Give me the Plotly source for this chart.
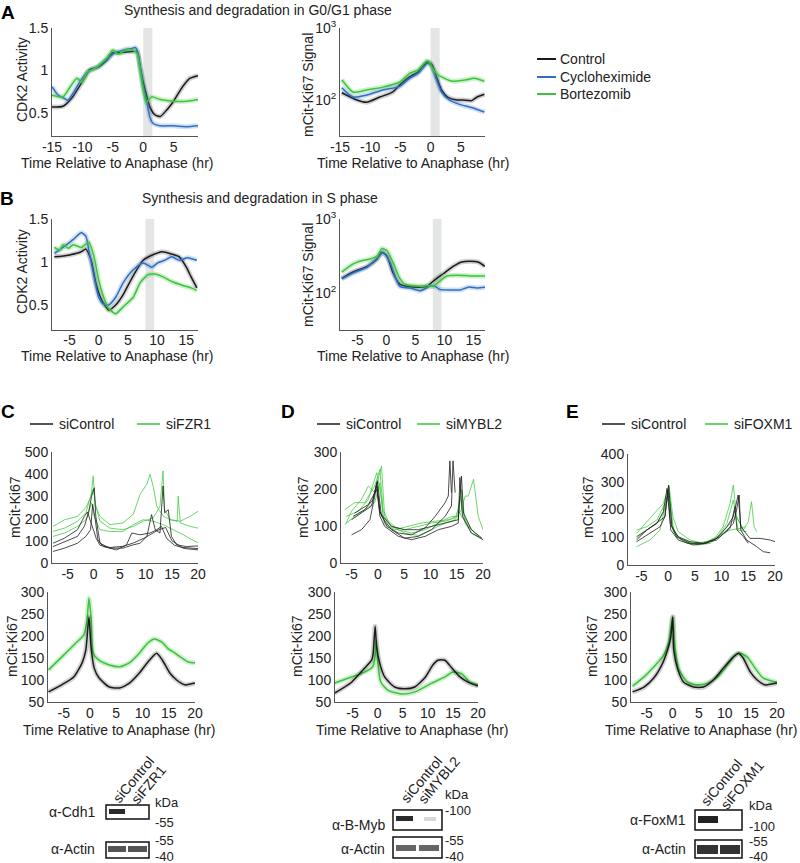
import plotly.graph_objects as go

# ---------------- DATA ----------------
# Panel A (G0/G1) CDK2 activity
a_cdk_ctrl_t = [-15, -13.2, -11.7, -10.7, -9.6, -8.8, -7.4, -6, -5, -3.8, -2.5, -1, -0.5, 0, 0.6, 1.1, 1.9, 2.8, 3.9, 4.9, 6.1, 6.9, 7.7, 9]
a_cdk_ctrl_v = [0.57, 0.58, 0.68, 0.79, 0.92, 1.01, 1.04, 1.12, 1.21, 1.21, 1.22, 1.22, 1.04, 0.86, 0.69, 0.57, 0.48, 0.46, 0.54, 0.63, 0.77, 0.85, 0.91, 0.94]
a_cdk_chx_t = [-15, -14, -13.2, -12.4, -11.5, -10.4, -9.2, -7.6, -6, -4.6, -3.3, -1.8, -1.3, -1, -0.5, 0, 0.6, 1.1, 1.6, 2.8, 4.9, 7.2, 9]
a_cdk_chx_v = [0.81, 0.71, 0.68, 0.65, 0.74, 0.87, 0.98, 1.04, 1.13, 1.21, 1.24, 1.26, 1.27, 1.24, 1.04, 0.81, 0.62, 0.45, 0.38, 0.35, 0.35, 0.34, 0.35]
a_cdk_btz_t = [-15, -13.2, -12, -10.9, -10.1, -9.2, -7.6, -6, -5, -4.1, -3, -1.8, -1, -0.5, 0, 0.5, 0.8, 1.4, 2.8, 4.9, 7.2, 9]
a_cdk_btz_v = [0.71, 0.69, 0.81, 0.91, 0.86, 0.98, 1.04, 1.15, 1.24, 1.19, 1.24, 1.24, 1.2, 1.0, 0.77, 0.62, 0.65, 0.69, 0.66, 0.64, 0.64, 0.66]

# Panel A Ki67 signal
a_ki_ctrl_t = [-14.7, -12.2, -10.6, -8.4, -6.3, -5.1, -3.5, -2.1, -1, -0.5, 0.2, 1, 1.8, 2.8, 4.3, 5.3, 6.8, 7.7, 8.9]
a_ki_ctrl_v = [126, 100, 93, 110, 129, 162, 209, 245, 309, 339, 309, 204, 138, 110, 100, 100, 98, 110, 120]
a_ki_chx_t = [-14.7, -12.85, -10.6, -7.9, -5.1, -3.5, -2.1, -0.5, 0.2, 1, 1.8, 3.1, 4.8, 6.9, 8.9]
a_ki_chx_v = [148, 110, 117, 138, 155, 200, 234, 324, 288, 191, 129, 100, 87, 78, 68]
a_ki_btz_t = [-14.7, -12.85, -10.6, -7.9, -5.1, -3.5, -2.1, -0.7, -0.2, 0.3, 1.2, 2.3, 3.6, 5.9, 7.2, 8.9]
a_ki_btz_v = [191, 129, 138, 151, 178, 234, 263, 347, 339, 275, 224, 200, 182, 191, 200, 182]

# Panel B (S phase) CDK2 activity
b_cdk_ctrl_t = [-7.6, -5.2, -3, -2.2, -1.3, -0.5, 0.3, 1.2, 1.7, 2.9, 4.0, 5.9, 7.6, 8.8, 10.9, 12.6, 13.8, 15, 15.8, 16.8]
b_cdk_ctrl_v = [1.06, 1.08, 1.12, 1.15, 1.02, 0.76, 0.59, 0.48, 0.44, 0.5, 0.6, 0.84, 1.02, 1.07, 1.12, 1.09, 1.06, 0.94, 0.83, 0.70]
b_cdk_chx_t = [-7.6, -6.1, -4.4, -3, -2.2, -1.7, -0.8, 0, 0.8, 1.7, 2.9, 4.2, 5.9, 7.6, 9.1, 10.1, 11.3, 12.5, 13.8, 15.2, 16.8]
b_cdk_chx_v = [1.1, 1.17, 1.26, 1.34, 1.3, 1.14, 0.83, 0.59, 0.51, 0.5, 0.59, 0.76, 0.91, 0.99, 0.94, 0.99, 1.02, 1.06, 1.02, 1.05, 1.02]
b_cdk_btz_t = [-7.6, -6.7, -6.1, -5.2, -4.4, -3, -1.7, -0.8, 0, 0.8, 1.7, 2.9, 4.2, 5.9, 7.1, 8.4, 9.6, 10.9, 12.6, 14.3, 15.8, 16.8]
b_cdk_btz_v = [1.17, 1.14, 1.2, 1.16, 1.2, 1.17, 1.23, 1.06, 0.79, 0.6, 0.46, 0.40, 0.48, 0.59, 0.76, 0.85, 0.86, 0.83, 0.77, 0.73, 0.70, 0.67]

# Panel B Ki67 signal
b_ki_ctrl_t = [-7.7, -5.8, -3.3, -1.6, -0.8, 0.1, 1.1, 2.3, 3.6, 4.6, 5.8, 7, 7.9, 8.7, 9.8, 11.5, 13, 14.4, 15.8, 17]
b_ki_ctrl_v = [158, 191, 229, 288, 355, 316, 191, 132, 123, 120, 120, 123, 141, 158, 182, 229, 263, 269, 263, 229]
b_ki_chx_t = [-7.7, -5.8, -3.3, -1.1, -0.6, 0.6, 2.3, 4.1, 5.8, 7.5, 8.4, 9.2, 11, 12.7, 14.1, 15.6, 17]
b_ki_chx_v = [155, 186, 224, 324, 355, 263, 123, 117, 107, 123, 123, 112, 110, 110, 120, 117, 120]
b_ki_btz_t = [-7.7, -5.8, -4.6, -2.8, -1.6, -0.8, 0.1, 1.1, 2.3, 3.2, 4.6, 5.8, 7, 8, 9.2, 10.4, 12.2, 14.4, 17]
b_ki_btz_v = [191, 245, 269, 288, 316, 398, 372, 263, 158, 132, 126, 123, 126, 123, 145, 170, 174, 170, 170]

# Panel C single cells (siControl / siFZR1)
c_ctrl_cells_t = [
    [-7.8, -5.6, -3.1, -1.8, -1, -0.4, 0.1, 0.4, 1.2, 3.1, 5.6, 7.6, 8.9, 10.2, 11.1, 11.8, 12.7, 13.3, 13.6, 14.3, 14.9, 15.9, 17.8, 20],
    [-7.8, -5.6, -3.1, -1.5, -0.6, -0.2, 0.3, 0.8, 1.8, 4.4, 6.3, 7.3, 8.9, 10.8, 12.1, 13, 14, 15.5, 17.5, 20],
    [-7.8, -5.6, -3.1, -1.8, -1.2, -0.6, 0, 0.5, 1.2, 3.1, 5.6, 7.6, 9.5, 11, 12.5, 13.8, 15, 17, 20],
]
c_ctrl_cells_v = [
    [74, 97, 120, 165, 226, 301, 339, 210, 89, 67, 67, 82, 89, 120, 218, 150, 135, 347, 226, 240, 120, 82, 74, 77],
    [52, 67, 89, 120, 150, 264, 195, 105, 74, 59, 82, 135, 127, 135, 150, 165, 110, 80, 65, 59],
    [89, 112, 150, 210, 230, 190, 140, 110, 80, 70, 75, 90, 110, 130, 150, 160, 100, 70, 65],
]
c_kd_cells_t = [
    [-7.8, -5.6, -3.1, -1.5, -0.5, -0.1, 0.3, 1.2, 3.1, 5.6, 7.6, 8.9, 10.2, 10.8, 11.4, 12.1, 13.4, 14.7, 16.6, 18.5, 20],
    [-7.8, -5.6, -3.1, -1.5, -0.6, -0.1, 0.4, 1.2, 3.1, 5.6, 7.6, 9.5, 11.4, 12.7, 13.3, 13.6, 14.7, 16, 16.2, 16.6, 18.5, 20],
    [-7.8, -5.6, -3.1, -1.5, -0.4, 0.1, 1.2, 3.1, 5.6, 7.6, 9.5, 11.4, 13.3, 15.3, 17.2, 18.8, 20],
]
c_kd_cells_v = [
    [165, 195, 210, 250, 300, 392, 260, 210, 173, 180, 220, 310, 355, 400, 345, 255, 210, 195, 188, 210, 233],
    [142, 157, 188, 226, 301, 332, 257, 188, 157, 150, 165, 188, 203, 255, 415, 240, 195, 188, 301, 180, 165, 157],
    [120, 135, 165, 195, 271, 210, 150, 142, 142, 173, 195, 188, 173, 150, 127, 105, 92],
]
# Panel C mean
c_ctrl_t = [-7.9, -5.4, -3.1, -1.5, -0.8, -0.2, 0.2, 0.8, 1.7, 3.7, 5.6, 7.5, 9.4, 11.3, 12.7, 13.8, 15.2, 16.5, 18.1, 20]
c_ctrl_v = [73, 89, 107, 139, 168, 243, 175, 127, 105, 84, 82, 93, 116, 145, 161, 145, 116, 100, 89, 93]
c_kd_t = [-7.9, -5.4, -2.7, -1.2, -0.6, -0.2, 0.2, 0.6, 1.7, 3.7, 5.6, 7.5, 9.4, 11, 12.3, 13.7, 14.8, 16.2, 17.5, 18.7, 20]
c_kd_v = [123, 152, 184, 202, 232, 286, 243, 161, 145, 134, 130, 139, 161, 184, 193, 186, 172, 161, 150, 141, 139]

# Panel D single cells (siControl / siMYBL2)
d_ctrl_cells_t = [
    [-5, -3.1, -1.5, -0.2, 0.4, 1.3, 3.9, 6.4, 9, 11.5, 14, 15.3, 15.6, 16.1, 17.8, 20],
    [-5, -3.1, -1.2, -0.2, 0.4, 1.7, 3.9, 6.4, 9, 10.9, 12.8, 13.4, 13.7, 14],
    [-4.7, -2.5, -0.9, -0.1, 0.7, 2.6, 5.1, 7.7, 10.2, 12.8, 14, 14.3, 14.7],
    [-4.4, -1.8, -0.2, 0.4, 2.6, 5.1, 7.7, 10.2, 12.8, 15.3, 15.9, 16.3, 17.8, 19.8],
]
d_ctrl_cells_v = [
    [76, 90, 117, 208, 126, 99, 72, 63, 72, 90, 99, 108, 231, 126, 81, 63],
    [117, 135, 154, 217, 140, 99, 81, 76, 95, 126, 163, 181, 276, 190],
    [126, 144, 172, 222, 126, 90, 67, 72, 90, 126, 154, 276, 190],
    [135, 158, 199, 135, 99, 90, 90, 99, 108, 117, 235, 135, 90, 67],
]
d_kd_cells_t = [
    [-6, -5, -3.1, -1.8, -0.6, 0.7, 1.3, 2.6, 5.1, 7.7, 10.2, 12.8, 14.7, 15.9, 16.6, 17.2, 18.2, 19.1, 20],
    [-6.3, -4.4, -2.5, -0.6, 0.4, 1, 2, 3.9, 6.4, 9, 11.5, 14, 15.3, 15.6, 16.3, 17.8, 19.1],
    [-6, -3.7, -1.8, -0.2, 0.6, 1.2, 3.2, 5.8, 8.3, 10.9, 13.4, 15, 15.9, 16.6, 17.8, 19.8],
    [-6.3, -4.4, -2.5, -0.6, 0.4, 1, 2.6, 5.1, 7.7, 10.2, 12.8, 14.7, 15.3, 15.9, 17.2, 18.5],
]
d_kd_cells_v = [
    [108, 140, 172, 208, 190, 262, 126, 99, 81, 74, 90, 108, 117, 144, 181, 181, 226, 126, 90],
    [144, 163, 163, 208, 253, 144, 113, 90, 81, 90, 108, 126, 126, 181, 126, 90, 72],
    [126, 140, 172, 244, 181, 108, 90, 99, 108, 113, 117, 126, 199, 108, 81, 67],
    [104, 126, 144, 163, 217, 126, 99, 90, 99, 108, 113, 122, 144, 126, 99, 81],
]
# Panel D mean
d_ctrl_t = [-8.6, -5.2, -2.6, -1.2, -0.9, -0.5, -0.2, 0.4, 1.4, 3.4, 5.4, 7.4, 9.4, 11, 12, 13.4, 14.8, 16.4, 18, 20]
d_ctrl_v = [70, 95, 127, 145, 160, 222, 175, 139, 107, 84, 80, 84, 105, 134, 145, 145, 127, 107, 95, 86]
d_kd_t = [-8.6, -5.2, -2.6, -1, -0.6, -0.3, 0, 0.6, 2, 4.8, 7.4, 10.8, 13.4, 15, 16.8, 18.4, 20]
d_kd_v = [93, 107, 118, 130, 145, 188, 145, 96, 77, 68, 73, 93, 107, 118, 114, 95, 89]

# Panel E single cells (siControl / siFOXM1)
e_ctrl_cells_t = [
    [-5.9, -4, -1.8, -0.6, 0.1, 0.7, 1.9, 4.1, 6.6, 9.1, 11, 12.2, 12.8, 13.3, 13.6, 14.7, 16.6, 17.8, 19.1],
    [-5.9, -4, -2.1, -0.9, -0.2, 0.4, 1.6, 4.1, 6.6, 9.1, 11, 12.2, 13.1, 13.6, 15.3, 17.2, 19.1, 20],
    [-5.9, -3.4, -1.5, -0.6, 0, 0.5, 1.9, 4.7, 7.2, 9.7, 11.6, 12.5, 12.9, 14.1, 15],
]
e_ctrl_cells_v = [
    [90, 126, 156, 174, 288, 138, 102, 84, 78, 90, 126, 150, 198, 252, 126, 90, 66, 48, 44],
    [102, 126, 150, 192, 276, 150, 102, 78, 78, 96, 138, 174, 252, 138, 96, 96, 90, 84],
    [84, 114, 138, 174, 270, 126, 90, 72, 78, 102, 132, 210, 126, 102, 78],
]
e_kd_cells_t = [
    [-5.9, -4, -2.1, -0.6, 0.1, 0.7, 1.6, 3.5, 6, 8.5, 10.3, 11.6, 12.2, 12.8, 14.1, 15, 15.6, 16.1, 16.6],
    [-5.9, -4, -2.1, -0.9, 0.2, 0.9, 1.9, 4.1, 6.6, 9.1, 11, 12.2, 13.1, 14.7],
    [-5.9, -3.4, -1.5, -0.2, 0.4, 1.1, 2.9, 5.4, 7.9, 10, 11.6, 12.8, 14.1],
    [-5.9, -4, -2.1, -0.6, 0.1, 0.9, 2.2, 4.7, 7.2, 9.7, 11.6, 13.5, 14.4],
]
e_kd_cells_v = [
    [96, 126, 150, 198, 288, 150, 102, 78, 78, 90, 138, 222, 288, 174, 126, 156, 228, 138, 120],
    [114, 156, 198, 222, 282, 174, 120, 90, 78, 96, 150, 234, 126, 120],
    [66, 90, 126, 246, 222, 114, 84, 72, 78, 114, 150, 174, 126],
    [126, 138, 162, 222, 258, 126, 96, 78, 84, 108, 126, 132, 138],
]
# Panel E mean
e_ctrl_t = [-7.7, -5.5, -3.6, -1.9, -1, -0.4, 0, 0.2, 1, 2.1, 4, 5.9, 7.8, 9.7, 11.6, 12.6, 13.5, 14.9, 16.2, 17.7, 20]
e_ctrl_v = [73, 84, 105, 139, 168, 195, 243, 168, 123, 95, 84, 84, 100, 127, 152, 161, 150, 118, 100, 89, 93]
e_kd_t = [-7.7, -5.5, -3.6, -1.7, -0.8, 0, 0.4, 1.2, 2.9, 4.8, 6.7, 8.6, 10.5, 12, 13, 14.3, 15.8, 17.3, 20]
e_kd_v = [86, 107, 130, 157, 184, 243, 175, 123, 95, 89, 93, 107, 134, 157, 161, 152, 127, 105, 95]

# Labels / ticks
legend_a = ["Control", "Cycloheximide", "Bortezomib"]
ki_ticks_log = [100, 1000]
ki_ticktext_log = ["10<sup>2</sup>", "10<sup>3</sup>"]
time_ticks_a = [-15, -10, -5, 0, 5]
time_ticks_b = [-5, 0, 5, 10, 15]
time_ticks_cde = [-5, 0, 5, 10, 15, 20]

# ---------------- FIGURE ----------------
W, H = 800, 863
FONT = "Liberation Sans, Arial, Helvetica, sans-serif"
BLACK = "#1a1a1a"
BLUE = "#2f6fc2"
GREEN = "#3cc43c"
fig = go.Figure()


def xr(i):
    return "x" if i == 1 else f"x{i}"


def yr(i):
    return "y" if i == 1 else f"y{i}"


def add_line(ax, t, v, color, width=1.5, halo=None, shape="spline", halo_w=5):
    if halo:
        fig.add_trace(go.Scatter(x=t, y=v, mode="lines", xaxis=xr(ax), yaxis=yr(ax),
                                 line=dict(color=halo, width=halo_w, shape=shape, smoothing=0.6),
                                 hoverinfo="skip", showlegend=False))
    fig.add_trace(go.Scatter(x=t, y=v, mode="lines", xaxis=xr(ax), yaxis=yr(ax),
                             line=dict(color=color, width=width, shape=shape, smoothing=0.6),
                             hoverinfo="skip", showlegend=False))


H_BLK = "rgba(0,0,0,0.18)"
H_BLU = "rgba(47,111,194,0.22)"
H_GRN = "rgba(60,196,60,0.25)"

# A
add_line(1, a_cdk_ctrl_t, a_cdk_ctrl_v, BLACK, halo=H_BLK)
add_line(1, a_cdk_chx_t, a_cdk_chx_v, BLUE, halo=H_BLU)
add_line(1, a_cdk_btz_t, a_cdk_btz_v, GREEN, halo=H_GRN)
add_line(2, a_ki_ctrl_t, a_ki_ctrl_v, BLACK, halo=H_BLK)
add_line(2, a_ki_chx_t, a_ki_chx_v, BLUE, halo=H_BLU)
add_line(2, a_ki_btz_t, a_ki_btz_v, GREEN, halo=H_GRN)
# B
add_line(3, b_cdk_ctrl_t, b_cdk_ctrl_v, BLACK, halo=H_BLK)
add_line(3, b_cdk_chx_t, b_cdk_chx_v, BLUE, halo=H_BLU)
add_line(3, b_cdk_btz_t, b_cdk_btz_v, GREEN, halo=H_GRN)
add_line(4, b_ki_ctrl_t, b_ki_ctrl_v, BLACK, halo=H_BLK)
add_line(4, b_ki_chx_t, b_ki_chx_v, BLUE, halo=H_BLU)
add_line(4, b_ki_btz_t, b_ki_btz_v, GREEN, halo=H_GRN)

# single cells
CELL_BLK = "rgba(30,30,30,0.8)"
CELL_GRN = "rgba(60,200,60,0.75)"
for ax, ct, cv, kt, kv in [(5, c_ctrl_cells_t, c_ctrl_cells_v, c_kd_cells_t, c_kd_cells_v),
                           (7, d_ctrl_cells_t, d_ctrl_cells_v, d_kd_cells_t, d_kd_cells_v),
                           (9, e_ctrl_cells_t, e_ctrl_cells_v, e_kd_cells_t, e_kd_cells_v)]:
    for t, v in zip(kt, kv):
        add_line(ax, t, v, CELL_GRN, width=1, shape="linear")
    for t, v in zip(ct, cv):
        add_line(ax, t, v, CELL_BLK, width=1, shape="linear")

# means
add_line(6, c_kd_t, c_kd_v, GREEN, halo=H_GRN)
add_line(6, c_ctrl_t, c_ctrl_v, BLACK, halo=H_BLK)
add_line(8, d_kd_t, d_kd_v, GREEN, halo=H_GRN)
add_line(8, d_ctrl_t, d_ctrl_v, BLACK, halo=H_BLK)
add_line(10, e_kd_t, e_kd_v, GREEN, halo=H_GRN)
add_line(10, e_ctrl_t, e_ctrl_v, BLACK, halo=H_BLK)


# ---------------- AXES ----------------
def tk(vals):
    return dict(tickvals=vals, ticktext=[("%g" % v) for v in vals])


boxes = {1: (52, 198, 28, 136), 2: (340, 485, 28, 136), 3: (52, 198, 219, 330), 4: (340, 485, 219, 330),
         5: (52, 198, 452, 563), 6: (48, 195, 592, 702), 7: (341, 483, 452, 563), 8: (335, 478, 592, 702),
         9: (628, 775, 454, 565), 10: (631, 777, 592, 702)}
xcfg = {1: dict(range=[-15, 9], **tk(time_ticks_a)),
        2: dict(range=[-15, 9], **tk(time_ticks_a)),
        3: dict(range=[-8, 17], **tk(time_ticks_b)),
        4: dict(range=[-8, 17], **tk(time_ticks_b)),
        5: dict(range=[-8, 20], **tk(time_ticks_cde)),
        6: dict(range=[-8, 20], **tk(time_ticks_cde)),
        7: dict(range=[-7, 20], **tk(time_ticks_cde)),
        8: dict(range=[-8.5, 20], **tk(time_ticks_cde)),
        9: dict(range=[-7.5, 20], **tk(time_ticks_cde)),
        10: dict(range=[-8, 20], **tk(time_ticks_cde))}
ycfg = {1: dict(range=[0.23, 1.5], **tk([0.5, 1, 1.5])),
        2: dict(type="log", range=[1.5, 3], tickvals=ki_ticks_log, ticktext=ki_ticktext_log),
        3: dict(range=[0.21, 1.5], **tk([0.5, 1, 1.5])),
        4: dict(type="log", range=[1.5, 3], tickvals=ki_ticks_log, ticktext=ki_ticktext_log),
        5: dict(range=[0, 500], **tk([0, 100, 200, 300, 400, 500])),
        6: dict(range=[50, 300], **tk([50, 100, 150, 200, 250, 300])),
        7: dict(range=[0, 300], **tk([0, 100, 200, 300])),
        8: dict(range=[50, 300], **tk([50, 100, 150, 200, 250, 300])),
        9: dict(range=[0, 400], **tk([0, 100, 200, 300, 400])),
        10: dict(range=[50, 300], **tk([50, 100, 150, 200, 250, 300]))}

layout = dict(width=W, height=H, margin=dict(l=0, r=0, t=0, b=0, pad=0, autoexpand=False),
              paper_bgcolor="white", plot_bgcolor="white", showlegend=False,
              font=dict(family=FONT, size=13, color="#222"))
common = dict(showline=True, linecolor="#555", linewidth=1, ticks="", showgrid=False, zeroline=False,
              automargin=False, tickfont=dict(family=FONT, size=14, color="#222"), fixedrange=True)
for i, (l, r, t, b) in boxes.items():
    xk = "xaxis" if i == 1 else f"xaxis{i}"
    yk = "yaxis" if i == 1 else f"yaxis{i}"
    stand = -3 if i in (3, 4) else -2
    layout[xk] = dict(domain=[l / W, r / W], anchor=yr(i), ticklabelstandoff=stand, **common, **xcfg[i])
    layout[yk] = dict(domain=[1 - b / H, 1 - t / H], anchor=xr(i), **common, **ycfg[i])
fig.update_layout(**layout)

shapes = []
# gray anaphase bands
for ax, x0, x1 in [(1, 0, 1.5), (2, 0, 1.5), (3, 8, 9.5), (4, 8, 9.5)]:
    shapes.append(dict(type="rect", xref=xr(ax), yref=yr(ax) + " domain", x0=x0, x1=x1, y0=0, y1=1,
                       fillcolor="#e4e5e5", line=dict(width=0), layer="below"))


def P(x, y):
    return x / W, 1 - y / H


def pline(x0, y0, x1, y1, color, w=2):
    a, b = P(x0, y0)
    c, d = P(x1, y1)
    shapes.append(dict(type="line", xref="paper", yref="paper", x0=a, y0=b, x1=c, y1=d,
                       line=dict(color=color, width=w)))


def prect(x0, y0, x1, y1, fill=None, line_color=None, lw=1.5):
    a, b = P(x0, y0)
    c, d = P(x1, y1)
    shapes.append(dict(type="rect", xref="paper", yref="paper", x0=a, y0=d, x1=c, y1=b,
                       fillcolor=fill if fill else "rgba(0,0,0,0)",
                       line=dict(color=line_color if line_color else "rgba(0,0,0,0)", width=lw if line_color else 0)))


annotations = []


def text(x, y, s, size=14, anchor="left", angle=0, bold=False, color="#222"):
    a, b = P(x, y)
    annotations.append(dict(x=a, y=b, xref="paper", yref="paper", text=("<b>%s</b>" % s) if bold else s,
                            showarrow=False, xanchor=anchor, yanchor="middle", textangle=angle,
                            font=dict(family=FONT, size=size, color=color)))


# panel letters
text(8, 13, "A", 19, "center", bold=True, color="#000")
text(7, 198, "B", 19, "center", bold=True, color="#000")
text(8, 411, "C", 19, "center", bold=True, color="#000")
text(288, 411, "D", 19, "center", bold=True, color="#000")
text(572, 411, "E", 19, "center", bold=True, color="#000")

# titles
text(258, 10, "Synthesis and degradation in G0/G1 phase", 14, "center")
text(260, 198, "Synthesis and degradation in S phase", 14, "center")

# x titles
for cx, cy in [(117, 163), (413, 163), (117, 356), (413, 356), (119, 730), (412, 730)]:
    text(cx, cy, "Time Relative to Anaphase (hr)", 14, "center")
text(799, 730, "Time Relative to Anaphase (hr)", 14, "right")
# y titles
text(22, 80, "CDK2 Activity", 14, "center", angle=-90)
text(22, 272, "CDK2 Activity", 14, "center", angle=-90)
text(308, 85, "mCit-Ki67 Signal", 14, "center", angle=-90)
text(308, 275, "mCit-Ki67 Signal", 14, "center", angle=-90)
for cx, cy in [(15, 507), (12, 646), (303, 507), (297, 646), (588, 507), (592, 646)]:
    text(cx, cy, "mCit-Ki67", 14, "center", angle=-90)

# legend A
for (yy, name, col) in zip([59, 77, 94], legend_a, [BLACK, BLUE, GREEN]):
    pline(537, yy, 556, yy, col, 2)
    text(558, yy, name, 14, "left")

# legends C/D/E
for (bx0, gx0, kdname) in [(30, 137, "siFZR1"), (317, 417, "siMYBL2"), (602, 705, "siFOXM1")]:
    pline(bx0, 424, bx0 + 23, 424, BLACK, 1.5)
    text(bx0 + 27, 424, "siControl", 14, "left")
    pline(gx0, 424, gx0 + 23, 424, GREEN, 1.5)
    text(gx0 + 27, 424, kdname, 14, "left")

KS = 13  # kDa marker font size
# western blots
# C
prect(106, 805, 149, 819, line_color="#111")
prect(109, 809, 125, 814, fill="#2a2a2a")
prect(106, 842, 149, 858, line_color="#111")
prect(108, 846, 126, 852, fill="#555")
prect(128, 846, 147, 852, fill="#555")
text(97, 812, "α-Cdh1", 14, "right")
text(97, 849, "α-Actin", 14, "right")
text(153, 802, "kDa", KS, "left")
text(153, 822, "-55", KS, "left")
text(153, 840, "-55", KS, "left")
text(153, 856, "-40", KS, "left")
text(133, 780, "siControl", 14, "center", angle=-50)
text(148, 785, "siFZR1", 14, "center", angle=-50)
# D
prect(393, 810, 442, 830, line_color="#111")
prect(396, 816, 413, 821, fill="#2a2a2a")
prect(424, 817, 436, 821, fill="#d8d8d8")
prect(393, 837, 442, 858, line_color="#111")
prect(396, 845, 416, 851, fill="#666")
prect(419, 845, 439, 851, fill="#666")
text(387, 825, "α-B-Myb", 14, "right")
text(387, 849, "α-Actin", 14, "right")
text(443, 794, "kDa", KS, "left")
text(443, 810, "-100", KS, "left")
text(443, 840, "-55", KS, "left")
text(443, 856, "-40", KS, "left")
text(421, 780, "siControl", 14, "center", angle=-50)
text(439, 780, "siMYBL2", 14, "center", angle=-50)
# E
prect(695, 810, 742, 830, line_color="#111")
prect(698, 816, 718, 823, fill="#222")
prect(695, 840, 742, 858, line_color="#111")
prect(697, 845, 718, 854, fill="#333")
prect(720, 845, 740, 854, fill="#333")
text(688, 820, "α-FoxM1", 14, "right")
text(688, 849, "α-Actin", 14, "right")
text(747, 805, "kDa", KS, "left")
text(747, 826, "-100", KS, "left")
text(747, 841, "-55", KS, "left")
text(747, 856, "-40", KS, "left")
text(721, 783, "siControl", 14, "center", angle=-50)
text(742, 785, "siFOXM1", 14, "center", angle=-50)

fig.update_layout(shapes=shapes, annotations=annotations)
fig.write_html("out.html", config={"displayModeBar": False},
               post_script="document.body.style.margin='0px';document.body.style.overflow='hidden';")
